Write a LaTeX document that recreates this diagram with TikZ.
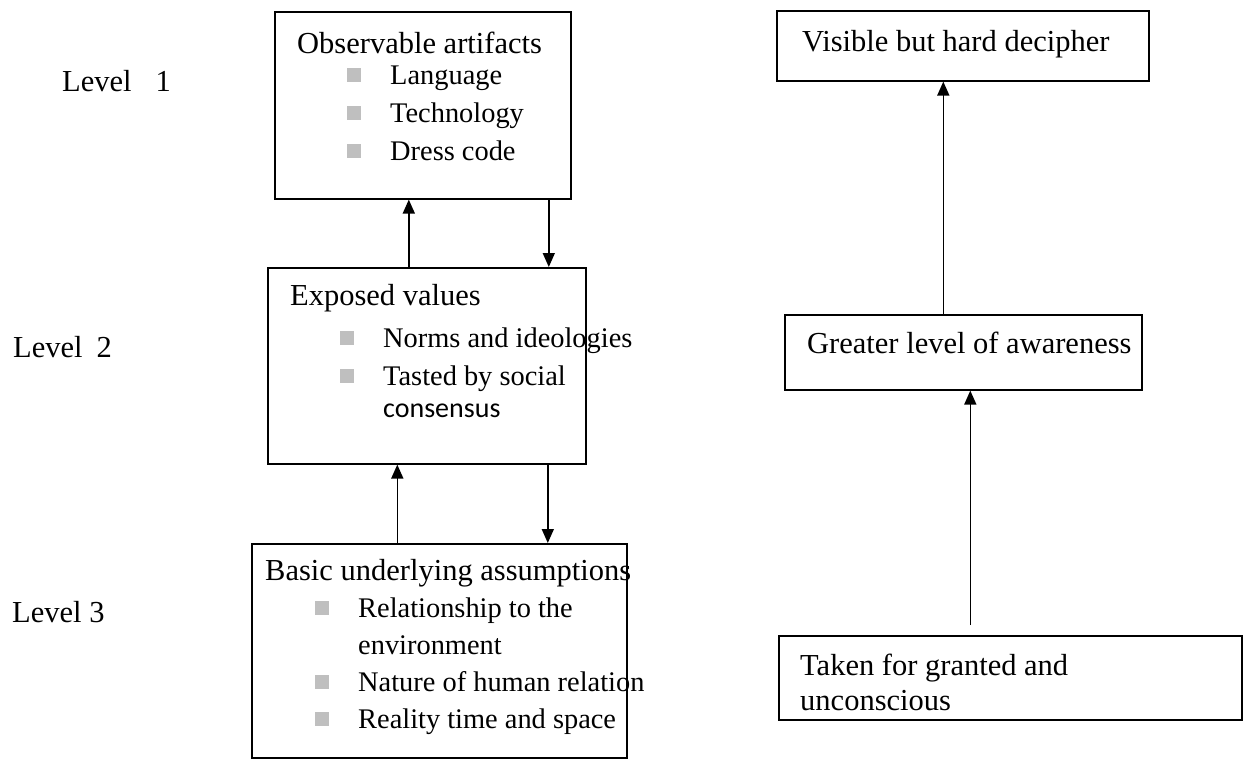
\documentclass[tikz,border=0pt]{standalone}
\usepackage{fontspec}
\setmainfont{Liberation Serif}
\newfontfamily\calfont{Carlito}
\usetikzlibrary{arrows.meta, positioning}

\newcommand{\sqbul}{\textcolor{black!25}{\rule[2pt]{14pt}{14pt}}}
\newcommand{\itm}[1]{\hspace*{50pt}\makebox[43pt][l]{\sqbul}{\fontsize{28.4}{38}\selectfont #1}}

\begin{document}
\begin{tikzpicture}[
        x=1pt, y=-1pt,
        box/.style={draw, line width=1.6pt, anchor=north west, inner sep=0pt},
        txt/.style={anchor=base west, align=left, inner sep=0pt, font=\fontsize{30.5}{38}\selectfont},
        lvl/.style={anchor=base west, inner sep=0pt, font=\fontsize{30.5}{38}\selectfont},
        arrow/.style={-{Triangle[length=14pt, width=12pt]}, line width=1.6pt}
    ]
    \useasboundingbox (0,0) rectangle (1244,760);

    % Level labels
    \node[lvl] (lvl1) at (62,91) {Level\hspace{24pt}1};
    \node[lvl] (lvl2) at (13,357) {Level\hspace{14pt}2};
    \node[lvl] (lvl3) at (12,622) {Level 3};

    % Left column boxes
    \node[box, minimum width=296pt, minimum height=187pt] (observ) at (274,11) {};
    \node[box, minimum width=318pt, minimum height=196pt] (exposed) at (267,267) {};
    \node[box, minimum width=375pt, minimum height=214pt] (basic) at (251,543) {};

    % texts are anchored at the baseline of their last line
    \node[txt] (observtxt) at (297,160) {Observable artifacts\\[-7pt]
        \itm{Language}\\ \itm{Technology}\\ \itm{Dress code}};
    \node[txt] (exposedtxt) at (290,417) {Exposed values\\[4pt]
        \itm{Norms and ideologies}\\ \itm{Tasted by social}\\[-6pt]
        \hspace*{93pt}{\calfont\fontsize{28}{34}\selectfont consensus}};
    \node[txt] (basictxt) at (265,728) {Basic underlying assumptions\\[-1pt]
        \itm{Relationship to the}\\[-1pt]
        \hspace*{93pt}{\fontsize{28.4}{38}\selectfont environment}\\[-1pt]
        \itm{Nature of human relation}\\[-1pt] \itm{Reality time and space}};

    % Right column boxes
    \node[box, minimum width=372pt, minimum height=70pt] (visible) at (776,10) {};
    \node[box, minimum width=357pt, minimum height=75pt] (greater) at (784,314) {};
    \node[box, minimum width=463pt, minimum height=84pt] (taken) at (778,635) {};

    \node[txt] (visibletxt) at (802,52) {Visible but hard decipher};
    \node[txt] (greatertxt) at (807,353) {Greater level of awareness};
    \node[txt] (takentxt) at (800,710) {Taken for granted and\\[-3pt] unconscious};

    % Arrows
    \draw[arrow] ([xshift=-18pt]exposed.north) -- ([xshift=-18pt]exposed.north |- observ.south);
    \draw[arrow] ([xshift=126pt]observ.south) -- ([xshift=126pt]observ.south |- exposed.north);
    \draw[arrow] ([xshift=-42pt]basic.north) -- ([xshift=-42pt]basic.north |- exposed.south);
    \draw[arrow] ([xshift=121pt]exposed.south) -- ([xshift=121pt]exposed.south |- basic.north);
    \draw[arrow] ([xshift=-20pt]greater.north) -- ([xshift=-20pt]greater.north |- visible.south);
    \draw[arrow] ([xshift=-40pt, yshift=10pt]taken.north) -- ([xshift=-40pt]taken.north |- greater.south);

\end{tikzpicture}
\end{document}
